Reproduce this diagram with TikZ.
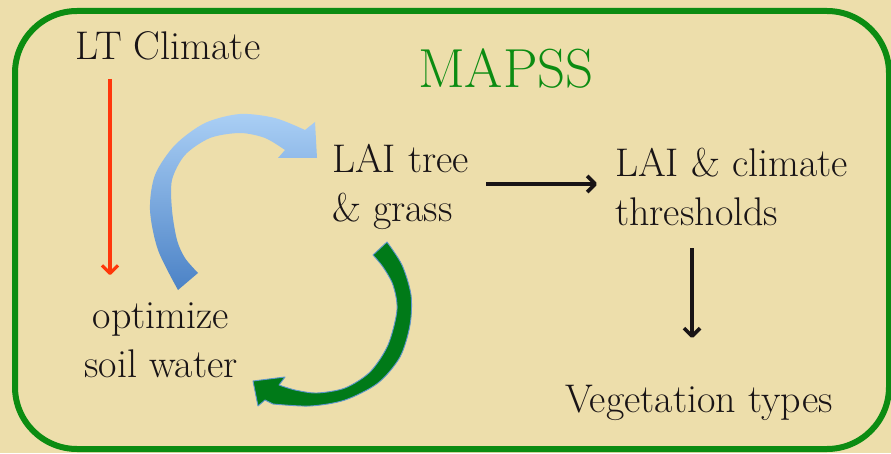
\documentclass[tikz,border=0pt]{standalone}
\usetikzlibrary{arrows.meta}
\definecolor{parch}{RGB}{237,222,171}
\definecolor{mgreen}{RGB}{12,140,18}
\definecolor{agreen}{RGB}{0,122,24}
\definecolor{aedge}{RGB}{95,150,205}
\definecolor{redarr}{RGB}{255,55,10}
\definecolor{bluelight}{RGB}{170,207,245}
\definecolor{bluedark}{RGB}{75,130,198}
\definecolor{ink}{RGB}{25,20,22}
\begin{document}
\begin{tikzpicture}[x=1pt,y=1pt,
  lbl/.style={font=\fontsize{40}{49}\selectfont, text=ink, inner sep=0pt, align=left},
  lblc/.style={lbl, align=center},
  title/.style={font=\fontsize{55}{60}\selectfont, text=mgreen, inner sep=0pt},
  flow/.style={line width=3.6pt, draw=ink, -{Straight Barb[length=8pt,width=16pt,line join=round]}},
  redflow/.style={line width=3.2pt, draw=redarr, -{Straight Barb[length=8pt,width=16pt,line join=round]}},
  frame/.style={draw=mgreen, line width=6pt, rounded corners=62pt},
  bluearrow/.style={top color=bluelight, bottom color=bluedark, draw=none},
  greenarrow/.style={fill=agreen, draw=aedge, line width=0.9pt, line join=round}
]
\useasboundingbox (0,0) rectangle (891,453);
\fill[parch] (0,0) rectangle (891,453);
\draw[frame] (15,4) rectangle (889,442);

% texts
\node[lbl, anchor=base west] (ltc) at (75,393) {LT Climate};
\node[title, anchor=base] (mapss) at (506,365) {MAPSS};
\node[lbl, anchor=base west] (lai) at (332,231) {LAI tree\\\& grass};
\node[lbl, anchor=base west] (thr) at (615,227) {LAI \& climate\\thresholds};
\node[lbl, anchor=base west] (veg) at (565,41) {Vegetation types};
\node[lblc, anchor=base] (opt) at (161,76) {optimize\\soil water};

% straight connectors
\coordinate (r1) at (110,374);
\coordinate (r2) at (110,178);
\draw[redflow] (r1) -- (r2);
\coordinate (h1) at (486,269);
\coordinate (h2) at (597,269);
\draw[flow] (h1) -- (h2);
\coordinate (v1) at (692,205);
\coordinate (v2) at (692,115);
\draw[flow] (v1) -- (v2);

% blue curved arrow
\path[bluearrow] (178,163)
  -- plot[smooth] coordinates {(178,163) (158,203) (150,243) (155,278) (175,308) (205,330) (240,339) (275,335) (305,323)}
  -- (315,331) -- (317,295) -- (278,295)
  -- plot[smooth] coordinates {(285,303) (265,315) (240,320) (210,315) (185,298) (172,273) (172,243) (177,213) (185,195) (198,180)}
  -- cycle;

% green curved arrow
\path[greenarrow] (387,211)
  -- plot[smooth] coordinates {(387,211) (402,188) (411,158) (410,128) (400,96) (378,70) (345,53) (310,47) (273,49)}
  -- (265,53) -- (258,47) -- (253,72) -- (285,76) -- (279,68)
  -- plot[smooth] coordinates {(279,68) (295,63) (317,60) (345,65) (370,81) (388,108) (397,143) (393,168) (383,186) (373,198)}
  -- cycle;
\end{tikzpicture}
\end{document}
